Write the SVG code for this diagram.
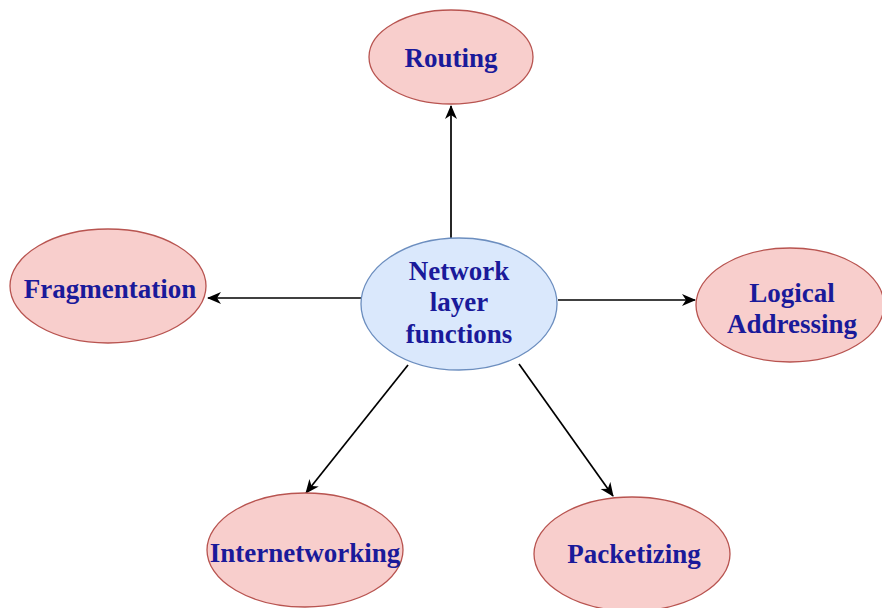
<svg xmlns="http://www.w3.org/2000/svg" width="882" height="608" viewBox="0 0 882 608">
<style>
.red{fill:#f8cecc;stroke:#b85450;stroke-width:1.3}
.blue{fill:#dae8fc;stroke:#6c8ebf;stroke-width:1.3}
text{font-family:"Liberation Serif","Times New Roman",serif;font-weight:bold;font-size:27px;fill:#1a1a9a;text-anchor:middle}
.e{stroke:#000;stroke-width:1.7;fill:none;marker-end:url(#ah)}
</style>
<defs>
<marker id="ah" viewBox="0 0 14 14" refX="13" refY="7" markerWidth="14" markerHeight="14" markerUnits="userSpaceOnUse" orient="auto">
<path d="M0,1 L14,7 L0,13 L4,7 Z" fill="#000"/>
</marker>
</defs>
<rect width="882" height="608" fill="#fff"/>
<g id="connectors">
<line class="e" x1="451" y1="238" x2="451" y2="106"/>
<line class="e" x1="361" y1="298" x2="208" y2="298"/>
<line class="e" x1="558" y1="300" x2="695" y2="300"/>
<line class="e" x1="408" y1="365" x2="306" y2="493"/>
<line class="e" x1="519" y1="364" x2="613" y2="496"/>
</g>
<g id="center">
<ellipse class="blue" cx="459" cy="304" rx="98" ry="66"/>
<text x="459" y="280">Network</text>
<text x="459" y="311">layer</text>
<text x="459" y="343">functions</text>
</g>
<g id="routing">
<ellipse class="red" cx="451" cy="57" rx="82" ry="47"/>
<text x="451" y="67">Routing</text>
</g>
<g id="fragmentation">
<ellipse class="red" cx="108" cy="286" rx="98" ry="57"/>
<text x="110" y="298">Fragmentation</text>
</g>
<g id="logical">
<ellipse class="red" cx="790" cy="305" rx="94" ry="57"/>
<text x="792" y="302">Logical</text>
<text x="792" y="333">Addressing</text>
</g>
<g id="internetworking">
<ellipse class="red" cx="305" cy="550" rx="98" ry="57"/>
<text x="305" y="562">Internetworking</text>
</g>
<g id="packetizing">
<ellipse class="red" cx="632" cy="554" rx="98" ry="57"/>
<text x="634" y="563">Packetizing</text>
</g>
</svg>
